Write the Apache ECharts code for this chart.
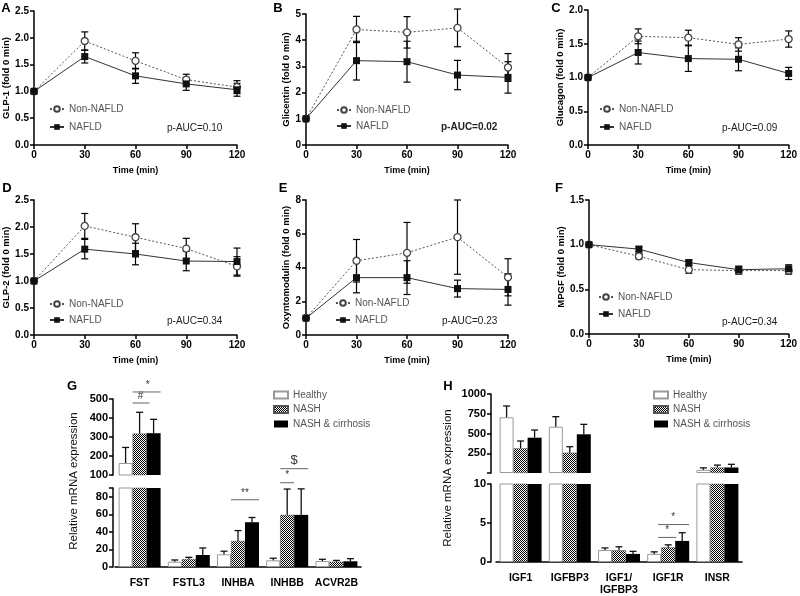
<!DOCTYPE html>
<html><head><meta charset="utf-8">
<script src="https://cdn.jsdelivr.net/npm/echarts@6/dist/echarts.min.js"></script>
<style>html,body{margin:0;padding:0;background:#fff}#c{width:800px;height:596px}</style>
</head><body><div id="c"></div><script>
// ---------- DATA ----------
const timePoints = [0, 30, 60, 90, 120];
const glp1NonNafld = [1.00, 1.94, 1.57, 1.22, 1.08];
const glp1NonNafldSem = [0, 0.17, 0.15, 0.10, 0.12];
const glp1Nafld = [1.00, 1.65, 1.29, 1.14, 1.03];
const glp1NafldSem = [0, 0.12, 0.14, 0.12, 0.12];
const glicentinNonNafld = [1.00, 4.41, 4.30, 4.47, 2.96];
const glicentinNonNafldSem = [0, 0.50, 0.60, 0.72, 0.53];
const glicentinNafld = [1.00, 3.22, 3.18, 2.67, 2.58];
const glicentinNafldSem = [0, 0.74, 0.78, 0.56, 0.60];
const glucagonNonNafld = [1.00, 1.61, 1.59, 1.49, 1.57];
const glucagonNonNafldSem = [0, 0.11, 0.11, 0.10, 0.12];
const glucagonNafld = [1.00, 1.37, 1.28, 1.27, 1.06];
const glucagonNafldSem = [0, 0.17, 0.19, 0.17, 0.09];
const glp2NonNafld = [1.00, 2.02, 1.81, 1.60, 1.27];
const glp2NonNafldSem = [0, 0.23, 0.25, 0.19, 0.18];
const glp2Nafld = [1.00, 1.59, 1.50, 1.37, 1.36];
const glp2NafldSem = [0, 0.18, 0.20, 0.18, 0.25];
const oxmNonNafld = [1.00, 4.40, 4.87, 5.80, 3.42];
const oxmNonNafldSem = [0, 1.26, 1.80, 2.20, 1.10];
const oxmNafld = [1.00, 3.40, 3.40, 2.75, 2.70];
const oxmNafldSem = [0, 0.90, 1.00, 0.50, 0.93];
const mpgfNonNafld = [1.00, 0.87, 0.72, 0.71, 0.71];
const mpgfNonNafldSem = [0, 0.03, 0.04, 0.04, 0.04];
const mpgfNafld = [1.00, 0.95, 0.80, 0.72, 0.73];
const mpgfNafldSem = [0, 0.03, 0.03, 0.04, 0.045];

const activinGenes = ['FST', 'FSTL3', 'INHBA', 'INHBB', 'ACVR2B'];
const activinHealthy = [163, 6, 14.5, 7.6, 6.8];
const activinHealthyErr = [82, 2, 3.5, 2.4, 2];
const activinNash = [318, 9, 29.7, 59.4, 6];
const activinNashErr = [112, 2, 11.8, 29.4, 1.5];
const activinCirr = [320, 13.7, 51, 59.4, 6.5];
const activinCirrErr = [73, 8, 5.4, 29.6, 3];

const igfGenes = ['IGF1', 'IGFBP3', 'IGF1/\nIGFBP3', 'IGF1R', 'INSR'];
const igfHealthy = [705, 586, 1.54, 1.04, 40];
const igfHealthyErr = [143, 127, 0.26, 0.26, 25];
const igfNash = [313, 257, 1.50, 1.87, 70];
const igfNashErr = [92, 76, 0.45, 0.33, 30];
const igfCirr = [447, 490, 1.04, 2.70, 70];
const igfCirrErr = [97, 126, 0.33, 1.05, 40];

const groupNames = ['Healthy', 'NASH', 'NASH & cirrhosis'];

// ---------- STYLE / LAYOUT ----------
const FONT = '"Liberation Sans", Arial, Helvetica, sans-serif';
const chart = echarts.init(document.getElementById('c'), null, {renderer: 'canvas'});

const pc = document.createElement('canvas');
pc.width = 2; pc.height = 2;
const pctx = pc.getContext('2d');
pctx.fillStyle = '#fff'; pctx.fillRect(0, 0, 2, 2);
pctx.fillStyle = '#000'; pctx.fillRect(0, 0, 1, 1); pctx.fillRect(1, 1, 1, 1);
const checker = {image: pc, repeat: 'repeat'};

const linePanels = [
  {letter: 'A', yName: 'GLP-1 (fold 0 min)', max: 2.5, interval: 0.5, dec: 1,
   non: glp1NonNafld, nonSem: glp1NonNafldSem, naf: glp1Nafld, nafSem: glp1NafldSem,
   grid: {left: 34, top: 11, width: 203, height: 134}, nameGap: 22, letterPos: [6, 8],
   legLeft: 49, legY: [110, 128], pauc: 'p-AUC=0.10', paucPos: [167, 128], bold: false},
  {letter: 'B', yName: 'Glicentin (fold 0 min)', max: 5, interval: 1, dec: 0,
   non: glicentinNonNafld, nonSem: glicentinNonNafldSem, naf: glicentinNafld, nafSem: glicentinNafldSem,
   grid: {left: 306, top: 14, width: 202, height: 131}, nameGap: 14, letterPos: [278, 8],
   legLeft: 336, legY: [111, 127], pauc: 'p-AUC=0.02', paucPos: [441, 127], bold: true},
  {letter: 'C', yName: 'Glucagon (fold 0 min)', max: 2.0, interval: 0.5, dec: 1,
   non: glucagonNonNafld, nonSem: glucagonNonNafldSem, naf: glucagonNafld, nafSem: glucagonNafldSem,
   grid: {left: 588, top: 10, width: 203, height: 135}, nameGap: 23, letterPos: [556, 8],
   legLeft: 599, legY: [110, 128], pauc: 'p-AUC=0.09', paucPos: [722, 128], bold: false},
  {letter: 'D', yName: 'GLP-2 (fold 0 min)', max: 2.5, interval: 0.5, dec: 1,
   non: glp2NonNafld, nonSem: glp2NonNafldSem, naf: glp2Nafld, nafSem: glp2NafldSem,
   grid: {left: 34, top: 200, width: 203, height: 135}, nameGap: 22, letterPos: [7, 188],
   legLeft: 49, legY: [305, 321], pauc: 'p-AUC=0.34', paucPos: [167, 321], bold: false},
  {letter: 'E', yName: 'Oxyntomodulin (fold 0 min)', max: 8, interval: 2, dec: 0,
   non: oxmNonNafld, nonSem: oxmNonNafldSem, naf: oxmNafld, nafSem: oxmNafldSem,
   grid: {left: 306, top: 200, width: 202, height: 135}, nameGap: 14, letterPos: [283, 188],
   legLeft: 335, legY: [304, 321], pauc: 'p-AUC=0.23', paucPos: [442, 321], bold: false},
  {letter: 'F', yName: 'MPGF (fold 0 min)', max: 1.5, interval: 0.5, dec: 1,
   non: mpgfNonNafld, nonSem: mpgfNonNafldSem, naf: mpgfNafld, nafSem: mpgfNafldSem,
   grid: {left: 589, top: 200, width: 202, height: 134}, nameGap: 22, letterPos: [559, 188],
   legLeft: 598, legY: [298, 315], pauc: 'p-AUC=0.34', paucPos: [722, 322], bold: false}
];

const axisLineStyle = {color: '#000', width: 1.5};
const tickLbl = {color: '#000', fontFamily: FONT, fontWeight: 'bold', fontSize: 10};

function lineErr(params, api) {
  const x = api.value(0), lo = api.value(1), hi = api.value(2);
  if (hi - lo <= 0) return null;
  const p1 = api.coord([x, lo]), p2 = api.coord([x, hi]);
  const w = 3.5, st = {stroke: '#000', lineWidth: 1.2};
  return {type: 'group', children: [
    {type: 'line', shape: {x1: p1[0], y1: p1[1], x2: p2[0], y2: p2[1]}, style: st},
    {type: 'line', shape: {x1: p1[0] - w, y1: p1[1], x2: p1[0] + w, y2: p1[1]}, style: st},
    {type: 'line', shape: {x1: p2[0] - w, y1: p2[1], x2: p2[0] + w, y2: p2[1]}, style: st}
  ]};
}

function barErr(offset) {
  return function (params, api) {
    const cat = api.value(0), val = api.value(1), top = api.value(2);
    if (isNaN(val)) return null;
    const cs = params.coordSys;
    const pv = api.coord([cat, val]), pt = api.coord([cat, top]);
    const bottom = cs.y + cs.height;
    if (pv[1] < cs.y || pt[1] > bottom) return null;
    const x = pv[0] + offset;
    const y1 = Math.min(pv[1], bottom), y2 = Math.max(pt[1], cs.y);
    const st = {stroke: '#111', lineWidth: 1.3};
    const ch = [{type: 'line', shape: {x1: x, y1: y1, x2: x, y2: y2}, style: st}];
    if (pt[1] >= cs.y) ch.push({type: 'line', shape: {x1: x - 3.5, y1: pt[1], x2: x + 3.5, y2: pt[1]}, style: st});
    return {type: 'group', children: ch};
  };
}

const grids = [], xAxes = [], yAxes = [], series = [], legends = [], graphics = [];

linePanels.forEach((p, i) => {
  grids.push(p.grid);
  xAxes.push({gridIndex: i, type: 'value', min: 0, max: 120, interval: 30,
    axisLine: {show: true, lineStyle: axisLineStyle},
    axisTick: {show: true, length: 4, lineStyle: axisLineStyle},
    axisLabel: Object.assign({margin: 5}, tickLbl), splitLine: {show: false},
    name: 'Time (min)', nameLocation: 'middle', nameGap: 21,
    nameTextStyle: {fontFamily: FONT, fontWeight: 'bold', fontSize: 9, color: '#000'}});
  yAxes.push({gridIndex: i, type: 'value', min: 0, max: p.max, interval: p.interval,
    axisLine: {show: true, lineStyle: axisLineStyle},
    axisTick: {show: true, length: 4, lineStyle: axisLineStyle},
    axisLabel: Object.assign({margin: 5, formatter: v => v.toFixed(p.dec)}, tickLbl),
    splitLine: {show: false},
    name: p.yName, nameLocation: 'middle', nameGap: p.nameGap,
    nameTextStyle: {fontFamily: FONT, fontWeight: 'bold', fontSize: 9.5, color: '#000'}});
  series.push({type: 'custom', name: 'errNon' + i, xAxisIndex: i, yAxisIndex: i, renderItem: lineErr,
    encode: {x: 0, y: [1, 2]}, z: 2, silent: true,
    data: timePoints.map((t, k) => [t, p.non[k] - p.nonSem[k], p.non[k] + p.nonSem[k]])});
  series.push({type: 'custom', name: 'errNaf' + i, xAxisIndex: i, yAxisIndex: i, renderItem: lineErr,
    encode: {x: 0, y: [1, 2]}, z: 2, silent: true,
    data: timePoints.map((t, k) => [t, p.naf[k] - p.nafSem[k], p.naf[k] + p.nafSem[k]])});
  series.push({type: 'line', name: 'Non-NAFLD', xAxisIndex: i, yAxisIndex: i,
    data: timePoints.map((t, k) => [t, p.non[k]]), symbol: 'circle', symbolSize: 7,
    lineStyle: {color: '#555', width: 1, type: [2, 2]},
    itemStyle: {color: '#fff', borderColor: '#444', borderWidth: 1.3}, z: 3});
  series.push({type: 'line', name: 'NAFLD', xAxisIndex: i, yAxisIndex: i,
    data: timePoints.map((t, k) => [t, p.naf[k]]), symbol: 'rect', symbolSize: 7,
    lineStyle: {color: '#333', width: 1}, itemStyle: {color: '#111'}, z: 4});
  ['Non-NAFLD', 'NAFLD'].forEach((nm, j) => {
    legends.push({data: [nm], left: p.legLeft, top: p.legY[j] - 6, padding: 0,
      itemWidth: 14, itemHeight: 7, itemGap: 0, selectedMode: false,
      textStyle: {fontFamily: FONT, fontSize: 10, color: '#555', padding: [0, 0, 0, 0]}});
  });
  graphics.push({type: 'text', x: p.letterPos[0], y: p.letterPos[1],
    style: {text: p.letter, fontFamily: FONT, fontWeight: 'bold', fontSize: 13, fill: '#000', align: 'center', verticalAlign: 'middle'}});
  graphics.push({type: 'text', x: p.paucPos[0], y: p.paucPos[1],
    style: {text: p.pauc, fontFamily: FONT, fontWeight: p.bold ? 'bold' : 'normal', fontSize: 10, fill: '#222', align: 'left', verticalAlign: 'middle'}});
});

// ---------- BAR PANELS (broken y axis: two stacked grids) ----------
const barPanels = [
  {letter: 'G', cats: activinGenes, vals: [activinHealthy, activinNash, activinCirr],
   errs: [activinHealthyErr, activinNashErr, activinCirrErr],
   upper: {grid: {left: 115, top: 399, width: 246, height: 76}, min: 100, max: 500, interval: 100, hide: null},
   lower: {grid: {left: 115, top: 488, width: 246, height: 79}, min: 0, max: 90, interval: 20, hide: 90},
   offset: 2, letterPos: [72, 386], namePos: [74, 481], legLeft: 273, legTop: 390},
  {letter: 'H', cats: igfGenes, vals: [igfHealthy, igfNash, igfCirr],
   errs: [igfHealthyErr, igfNashErr, igfCirrErr],
   upper: {grid: {left: 496, top: 394, width: 246, height: 79}, min: 0, max: 1000, interval: 250, hide: 0},
   lower: {grid: {left: 496, top: 484, width: 246, height: 79}, min: 0, max: 10, interval: 5, hide: null},
   offset: 5, letterPos: [448, 386], namePos: [448, 478], legLeft: 653, legTop: 390}
];

const barStyles = [
  {color: '#fff', borderColor: '#999', borderWidth: 1},
  {color: checker, borderColor: '#555', borderWidth: 0.5},
  {color: '#000'}
];
const BW = 14;

barPanels.forEach((bp, b) => {
  ['upper', 'lower'].forEach((seg) => {
    const s = bp[seg];
    const gi = grids.length;
    grids.push(s.grid);
    xAxes.push({gridIndex: gi, type: 'category', data: bp.cats, show: seg === 'lower',
      axisLine: {show: true, lineStyle: axisLineStyle}, axisTick: {show: false},
      axisLabel: {color: '#000', fontFamily: FONT, fontWeight: 'bold', fontSize: 10.5, margin: 10, interval: 0, lineHeight: 12}});
    yAxes.push({gridIndex: gi, type: 'value', min: s.min, max: s.max, interval: s.interval, offset: bp.offset,
      axisLine: {show: true, lineStyle: axisLineStyle},
      axisTick: {show: true, length: 4, lineStyle: axisLineStyle},
      axisLabel: {color: '#000', fontFamily: FONT, fontWeight: 'bold', fontSize: 11, margin: 5,
        formatter: v => (s.hide !== null && v === s.hide) ? '' : String(v)},
      splitLine: {show: false}});
    // upper segment only carries values that exceed the lower segment's range
    const cut = seg === 'upper' ? bp.lower.max : -Infinity;
    bp.vals.forEach((vals, g) => {
      series.push({type: 'bar', name: groupNames[g], xAxisIndex: gi, yAxisIndex: gi,
        data: vals.map(v => v > cut ? v : '-'),
        barWidth: BW, barGap: '0%', itemStyle: barStyles[g], clip: true, z: 2});
    });
    bp.vals.forEach((vals, g) => {
      series.push({type: 'custom', name: 'err' + b + seg + g, xAxisIndex: gi, yAxisIndex: gi,
        renderItem: barErr((g - 1) * BW), encode: {x: 0, y: 1}, z: 3, silent: true,
        data: vals.map((v, k) => v > cut ? [k, v, v + bp.errs[g][k]] : [k, NaN, NaN])});
    });
    s.gi = gi;
  });
  legends.push({data: groupNames, orient: 'vertical', left: bp.legLeft, top: bp.legTop, padding: 0,
    itemWidth: 14, itemHeight: 7, itemGap: 4.5, icon: 'rect', selectedMode: false,
    textStyle: {fontFamily: FONT, fontSize: 10, color: '#555'}});
  graphics.push({type: 'text', x: bp.letterPos[0], y: bp.letterPos[1],
    style: {text: bp.letter, fontFamily: FONT, fontWeight: 'bold', fontSize: 13, fill: '#000', align: 'center', verticalAlign: 'middle'}});
  graphics.push({type: 'text', x: bp.namePos[0], y: bp.namePos[1], rotation: Math.PI / 2,
    style: {text: 'Relative mRNA expression', fontFamily: FONT, fontSize: 11.5, fill: '#111', align: 'center', verticalAlign: 'middle'}});
});

const option = {
  animation: false,
  backgroundColor: '#fff',
  textStyle: {fontFamily: FONT},
  grid: grids, xAxis: xAxes, yAxis: yAxes, series: series, legend: legends
};
chart.setOption(option);

// significance annotations (data coords in the given grid, x offsets in px from category centre)
const sigMarks = [
  {grid: barPanels[0].upper.gi, cat: 0, value: 537, x0: -7, x1: 21, tx: 8, label: '*', size: 10},
  {grid: barPanels[0].upper.gi, cat: 0, value: 479, x0: -7, x1: 10, tx: 1, label: '#', size: 10},
  {grid: barPanels[0].lower.gi, cat: 2, value: 76.6, x0: -7, x1: 21, tx: 7, label: '**', size: 10},
  {grid: barPanels[0].lower.gi, cat: 3, value: 96, x0: -7, x1: 7, tx: 0, label: '*', size: 10},
  {grid: barPanels[0].lower.gi, cat: 3, value: 112, x0: -7, x1: 21, tx: 7, label: '$', size: 13},
  {grid: barPanels[1].lower.gi, cat: 3, value: 3.15, x0: -10, x1: 8, tx: -1, label: '*', size: 10},
  {grid: barPanels[1].lower.gi, cat: 3, value: 4.8, x0: -10, x1: 21, tx: 5, label: '*', size: 10}
];
sigMarks.forEach(m => {
  const p = chart.convertToPixel({gridIndex: m.grid}, [m.cat, m.value]);
  graphics.push({type: 'line', shape: {x1: p[0] + m.x0, y1: p[1], x2: p[0] + m.x1, y2: p[1]},
    style: {stroke: '#666', lineWidth: 1}});
  graphics.push({type: 'text', x: p[0] + m.tx, y: p[1] - 2,
    style: {text: m.label, fontFamily: FONT, fontSize: m.size, fill: '#333', align: 'center', verticalAlign: 'bottom'}});
});
chart.setOption({graphic: graphics});
</script></body></html>
